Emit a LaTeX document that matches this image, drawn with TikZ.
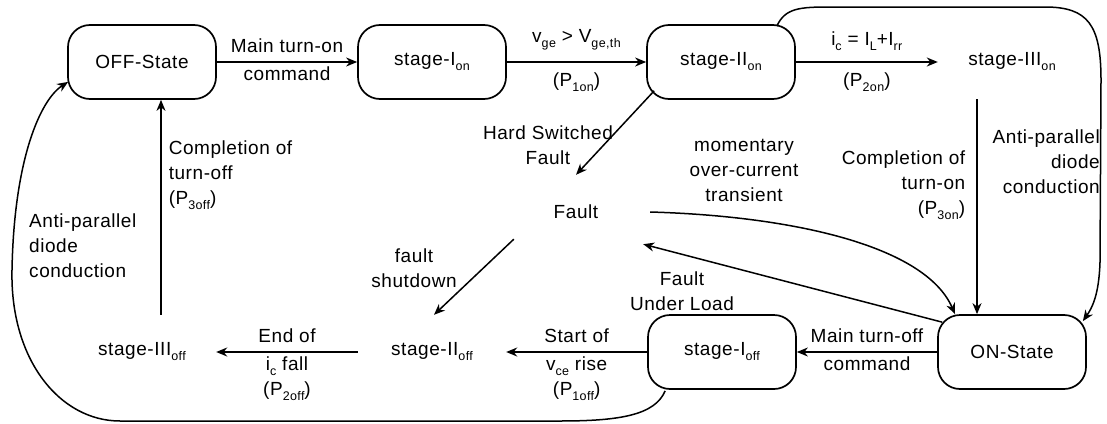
\documentclass[tikz,border=0pt]{standalone}
\usepackage{fontspec}
\setmainfont[LetterSpace=3]{Liberation Sans}
\usetikzlibrary{arrows.meta,calc}
% lowered, smaller index text
\newcommand\sbx[1]{\raisebox{-5pt}{\fontsize{12.5}{12.5}\selectfont #1}}
\begin{document}
\begin{tikzpicture}[x=1pt,y=-1pt,
  every node/.style={font=\fontsize{19}{25}\selectfont, inner sep=0pt},
  state/.style={draw, line width=1.7pt, rounded corners=22pt,
                minimum width=148pt, minimum height=74pt},
  ghost/.style={minimum width=148pt, minimum height=74pt},
  arr/.style={line width=1.5pt, -{Stealth[length=11pt,width=9pt,inset=3.5pt]}},
  lbl/.style={align=center}]
\useasboundingbox (0,0) rectangle (1107,423);

% states
\node[state] (off)    at (142,62)  {OFF-State};
\node[state] (Ion)    at (432,62)  {stage-I\sbx{on}};
\node[state] (IIon)   at (721,62)  {stage-II\sbx{on}};
\node[ghost] (IIIon)  at (1012,62) {stage-III\sbx{on}};
\node[ghost] (fault)  at (576,212) {Fault};
\node[state] (on)     at (1012,352) {ON-State};
\node[state] (Ioff)   at (722,352) {stage-I\sbx{off}};
\node[ghost] (IIoff)  at (432,352) {stage-II\sbx{off}};
\node[ghost] (IIIoff) at (142,352) {stage-III\sbx{off}};

% turn-on sequence
\draw[arr] (off) -- (Ion)
  node[midway,above=9pt]{Main turn-on}
  node[midway,below=4pt]{command};
\draw[arr] (Ion) -- (IIon)
  node[midway,above=11pt]{v\sbx{ge} > V\sbx{ge,th}}
  node[midway,below=10pt]{(P\sbx{1on})};
\draw[arr] (IIon) -- (IIIon)
  node[midway,above=11pt]{i\sbx{c} = I\sbx{L}+I\sbx{rr}}
  node[midway,below=10pt]{(P\sbx{2on})};
\draw[arr] ([xshift=-35pt]IIIon.south) -- ([xshift=-35pt]on.north)
  node[pos=0.4,left=11pt,align=right]{Completion of\\turn-on\\(P\sbx{3on})};

% diode conduction straight to ON-State
\draw[arr] ($(IIon.north east)+(-19,2)$) .. controls (785,8) and (800,7) .. (830,7)
  -- (1045,7) .. controls (1088,7) and (1101,25) .. (1101,80)
  -- (1100,262) .. controls (1099,295) and (1092,308) .. ($(on.north east)+(-4,7)$);
\node[align=right,anchor=east] (lad) at (1100,162) {Anti-parallel\\diode\\conduction};

% fault paths
\draw[arr] ($(IIon.south west)+(8,-9)$) -- (fault.north);
\node[lbl] (lhs) at (548,145) {Hard Switched\\Fault};
\draw[arr] (fault.east) .. controls (790,216) and (925,245) .. ([xshift=-57pt]on.north);
\node[lbl] (lmo) at (744,170) {momentary\\over-current\\transient};
\draw[arr] ($(on.north west)+(5,8)$) -- ($(fault.south east)+(-7,-5)$);
\node[lbl] (lul) at (682,291) {Fault\\Under Load};
\draw[arr] ($(fault.south west)+(12,-10)$) -- ($(IIoff.north)+(2,0)$);
\node[lbl] (lsd) at (414,268) {fault\\shutdown};

% turn-off sequence
\draw[arr] (on) -- (Ioff)
  node[midway,above=9pt]{Main turn-off}
  node[midway,below=4pt]{command};
\draw[arr] (Ioff) -- (IIoff)
  node[midway,above=9pt]{Start of}
  node[midway,below=4pt,align=center]{v\sbx{ce} rise\\(P\sbx{1off})};
\draw[arr] (IIoff) -- (IIIoff)
  node[midway,above=9pt]{End of}
  node[midway,below=4pt,align=center]{i\sbx{c} fall\\(P\sbx{2off})};
\draw[arr] ([xshift=19pt]IIIoff.north) -- ([xshift=19pt]off.south)
  node[pos=0.65,right=7pt,align=left]{Completion of\\turn-off\\(P\sbx{3off})};

% diode conduction back to OFF-State
\draw[arr] ($(Ioff.south west)+(18,1)$) .. controls (655,415) and (620,421) .. (560,421)
  -- (120,421) .. controls (60,421) and (10,360) .. (12,270)
  .. controls (14,160) and (40,100) .. ($(off.south west)+(1,-18)$);
\node[align=left,anchor=west] (lad2) at (29,246) {Anti-parallel\\diode\\conduction};
\end{tikzpicture}
\end{document}
